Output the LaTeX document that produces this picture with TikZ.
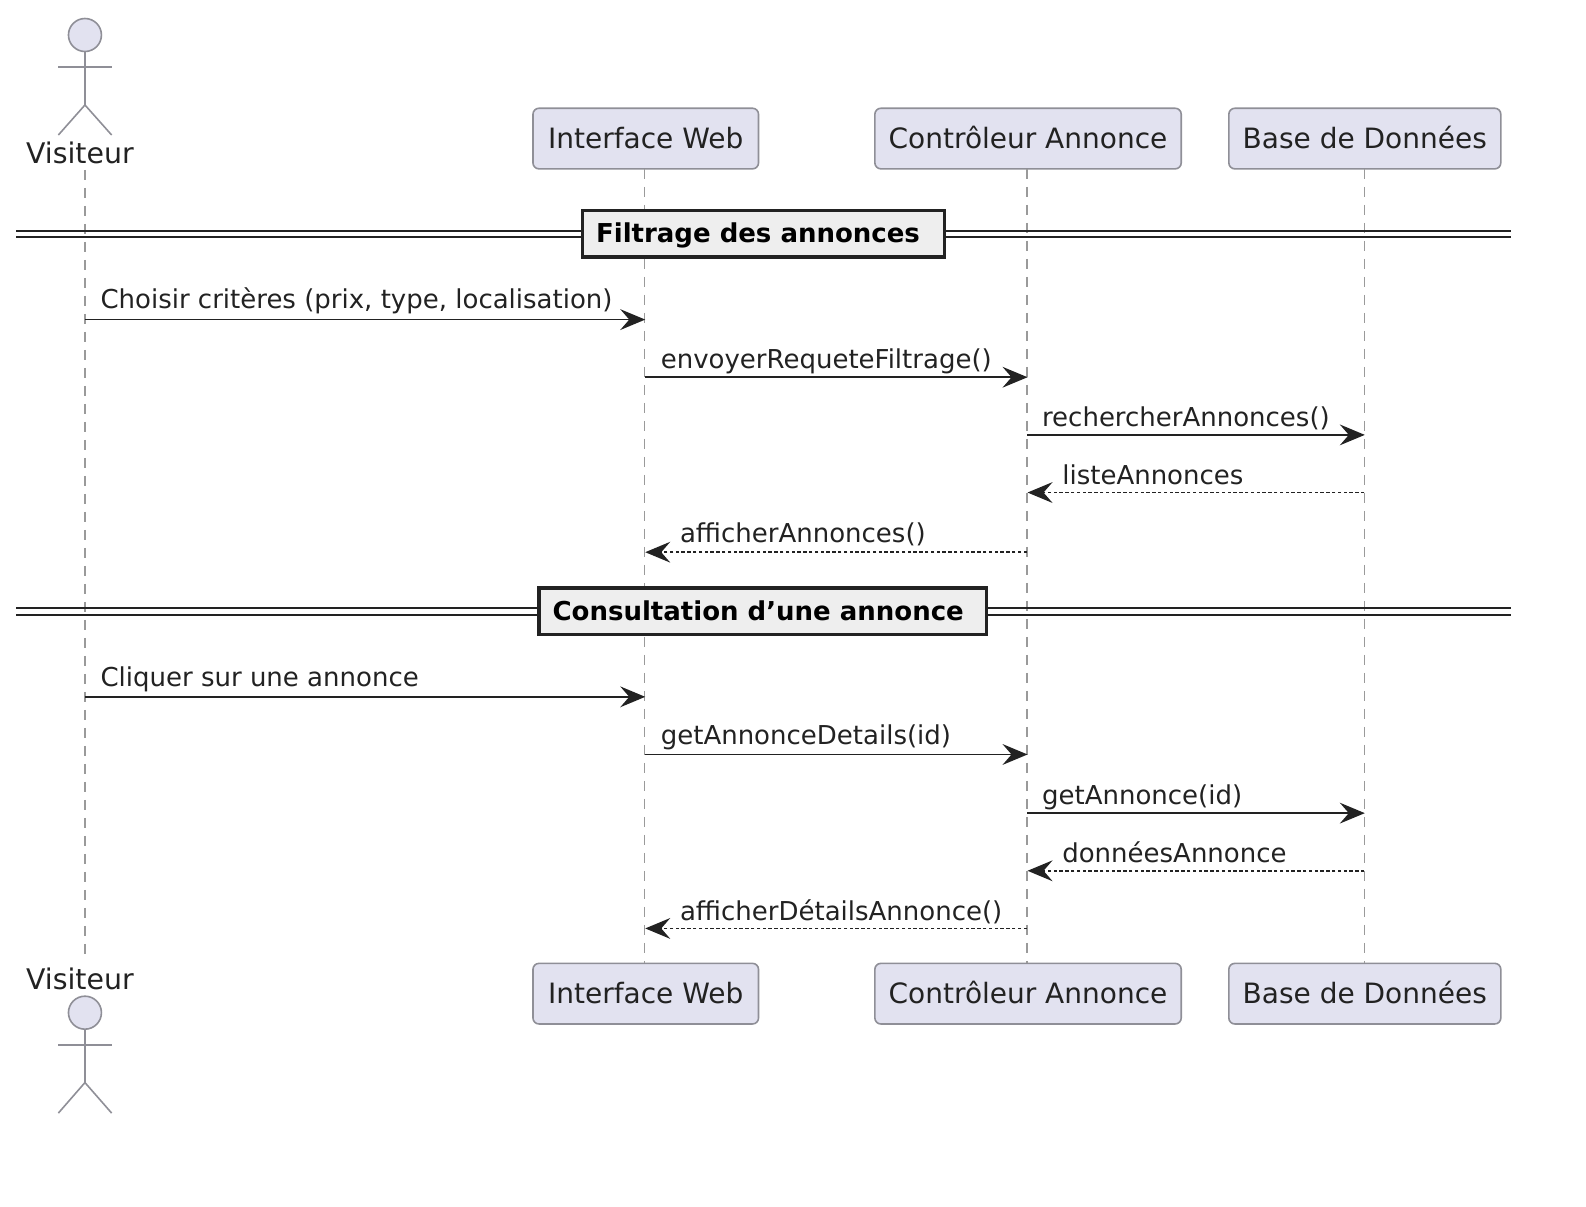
\documentclass[tikz,border=0pt]{standalone}
\usepackage{fontspec}
\setmainfont{DejaVu Sans}
\usetikzlibrary{arrows.meta}
\definecolor{pfill}{HTML}{E2E2F0}
\definecolor{pline}{HTML}{8F8F97}
\definecolor{ink}{HTML}{222222}
\definecolor{dfill}{HTML}{EEEEEE}
\definecolor{lifec}{HTML}{9A9A9A}
\tikzset{
 part/.style={draw=pline,fill=pfill,line width=0.8pt,rounded corners=3pt,minimum height=30.3pt,inner sep=0pt,text height=12pt,text depth=2.2pt,text=ink,font=\fontsize{14}{16}\selectfont},
 actorlabel/.style={inner sep=0pt,text=ink,font=\fontsize{14.2}{16}\selectfont,anchor=base},
 life/.style={draw=lifec,line width=0.55pt,dash pattern=on 5pt off 4pt},
 stick/.style={draw=pline,line width=0.8pt},
 msg/.style={draw=ink,line width=0.85pt,-{Stealth[length=12.5pt,width=10.4pt,inset=4.5pt]}},
 ret/.style={draw=ink,line width=0.8pt,dash pattern=on 1.7pt off 1.2pt,-{Stealth[length=12.5pt,width=10.4pt,inset=4.5pt]}},
 lab/.style={inner sep=0pt,anchor=base west,text=ink,font=\fontsize{13}{15}\selectfont},
 divbox/.style={draw=ink,fill=dfill,line width=1.6pt,inner sep=0pt,text=black},
 divlab/.style={inner sep=0pt,anchor=base west,text=black,font=\bfseries\fontsize{13}{16}\selectfont},
 divline/.style={draw=ink,line width=1pt},
}
\begin{document}
\begin{tikzpicture}[x=0.50575pt,y=-0.50575pt]
\useasboundingbox (0,0) rectangle (1568.2,1192.5);
% free ends
\coordinate (vt) at (84,168); \coordinate (vb) at (84,950);
\coordinate (dl1) at (16,228); \coordinate (dr1) at (1494,228);
\coordinate (dl1b) at (16,234); \coordinate (dr1b) at (1494,234);
\coordinate (dl2) at (16,601.5); \coordinate (dr2) at (1494,601.5);
\coordinate (dl2b) at (16,608); \coordinate (dr2b) at (1494,608);
% participants
\node[part,minimum width=112.8pt] (it) at (638.5,137) {Interface Web};
\node[part,minimum width=153.2pt] (ct) at (1016.5,137) {Contrôleur Annonce};
\node[part,minimum width=136pt] (bt) at (1349.5,137) {Base de Données};
\node[part,minimum width=112.8pt] (ib) at (638.5,982.5) {Interface Web};
\node[part,minimum width=153.2pt] (cb) at (1016.5,982.5) {Contrôleur Annonce};
\node[part,minimum width=136pt] (bb) at (1349.5,982.5) {Base de Données};
\draw[life] (vt) -- (vb);
\draw[life] (637.5,167) coordinate (il) -- (637.5,952) coordinate (ilb);
\draw[life] (1015.5,167) coordinate (cl) -- (1015.5,952) coordinate (clb);
\draw[life] (1349,167) coordinate (bl) -- (1349,952) coordinate (blb);
% actors
\node[circle,draw=pline,fill=pfill,line width=0.8pt,minimum size=16.5pt,inner sep=0pt] (h1) at (84,34.6) {};
\draw[stick] (h1.south) -- (84,103.8) coordinate (hip1);
\draw[stick] (57.7,66) coordinate (a1) -- (110.4,66) coordinate (a2);
\draw[stick] (57.7,133.5) coordinate (f1) -- (hip1) -- (110.4,133.5) coordinate (f2);
\node[actorlabel] (v1) at (79,161.5) {Visiteur};
\node[actorlabel] (v2) at (79,978) {Visiteur};
\node[circle,draw=pline,fill=pfill,line width=0.8pt,minimum size=16.5pt,inner sep=0pt] (h2) at (84,1001.3) {};
\draw[stick] (h2.south) -- (84,1070.4) coordinate (hip2);
\draw[stick] (57.7,1033) coordinate (a3) -- (110.4,1033) coordinate (a4);
\draw[stick] (57.7,1100.6) coordinate (f3) -- (hip2) -- (110.4,1100.6) coordinate (f4);
% dividers
\draw[divline] (dl1) -- (dr1); \draw[divline] (dl1b) -- (dr1b);
\draw[divline] (dl2) -- (dr2); \draw[divline] (dl2b) -- (dr2b);
\node[divbox,minimum width=181pt,minimum height=23.3pt] (d1) at (755,231) {};
\node[divlab] (d1t) at (589,240) {Filtrage des annonces};
\node[divbox,minimum width=224pt,minimum height=23.3pt] (d2) at (754.3,604.5) {};
\node[divlab] (d2t) at (546,613.5) {Consultation d’une annonce};
% message anchors
\foreach \n/\x/\y in {m1a/84/316,m1b/638/316,m2a/637.5/373,m2b/1016/373,m3a/1015.5/430,m3b/1349.5/430,m4a/1349/487,m4b/1016/487,m5a/1015.5/546,m5b/638/546,
 m6a/84/689,m6b/638/689,m7a/637.5/746,m7b/1016/746,m8a/1015.5/804,m8b/1349.5/804,m9a/1349/861,m9b/1016/861,m10a/1015.5/918,m10b/638/918}
 {\coordinate (\n) at (\x,\y);}
\draw[msg] (m1a) -- (m1b);
\draw[msg] (m2a) -- (m2b);
\draw[msg] (m3a) -- (m3b);
\draw[ret] (m4a) -- (m4b);
\draw[ret] (m5a) -- (m5b);
\draw[msg] (m6a) -- (m6b);
\draw[msg] (m7a) -- (m7b);
\draw[msg] (m8a) -- (m8b);
\draw[ret] (m9a) -- (m9b);
\draw[ret] (m10a) -- (m10b);
\node[lab] (l1) at (99,305) {Choisir critères (prix, type, localisation)};
\node[lab] (l2) at (653,364) {envoyerRequeteFiltrage()};
\node[lab] (l3) at (1030,421.5) {rechercherAnnonces()};
\node[lab] (l4) at (1050,479) {listeAnnonces};
\node[lab] (l5) at (672,536) {afficherAnnonces()};
\node[lab] (l6) at (99,679) {Cliquer sur une annonce};
\node[lab] (l7) at (653,736) {getAnnonceDetails(id)};
\node[lab] (l8) at (1030,795) {getAnnonce(id)};
\node[lab] (l9) at (1050,853) {donnéesAnnonce};
\node[lab] (l10) at (672,910) {afficherDétailsAnnonce()};
\end{tikzpicture}
\end{document}
